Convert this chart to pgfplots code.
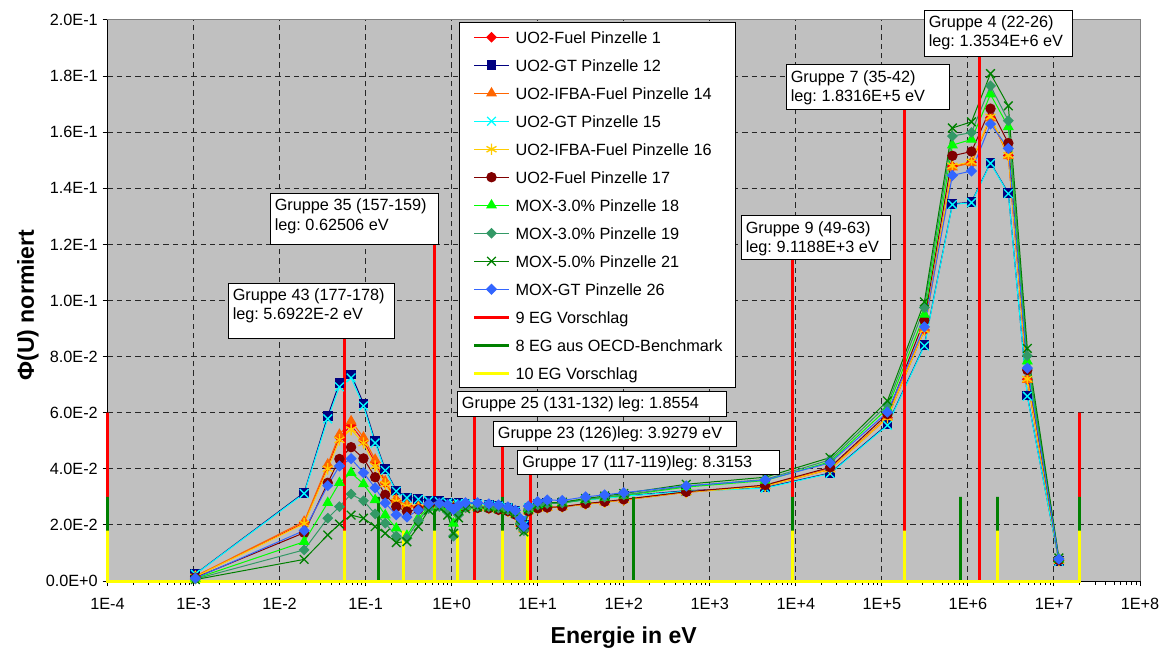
\documentclass[border=0pt]{standalone}
\usepackage{fontspec}
\setmainfont{Liberation Sans}
\usepackage{pgfplots}
\pgfplotsset{compat=1.18}
\usepackage{pgfplotstable}
\frenchspacing

\definecolor{cUOa}{HTML}{FF0000}
\definecolor{cGTa}{HTML}{000080}
\definecolor{cIFa}{HTML}{FF6600}
\definecolor{cGTb}{HTML}{00FFFF}
\definecolor{cIFb}{HTML}{FFCC00}
\definecolor{cUOb}{HTML}{800000}
\definecolor{cMOa}{HTML}{00FF00}
\definecolor{cMOb}{HTML}{339966}
\definecolor{cMOc}{HTML}{008000}
\definecolor{cMGT}{HTML}{3366FF}
\definecolor{egRed}{HTML}{FF0000}
\definecolor{egGreen}{HTML}{008000}
\definecolor{egYellow}{HTML}{FFFF00}
\definecolor{plotbg}{HTML}{C0C0C0}

\newcommand\tfont{\fontsize{12.2}{14.6}\selectfont}
\newcommand\lfont{\fontsize{17.3}{20}\selectfont\bfseries}

% normalised flux per energy point (eV) for the ten pin cells
\pgfplotstableread{
E       s1     s12    s14    s15    s16    s17    s18    s19    s21    s26
1.05e-3 0.0016 0.0025 0.0017 0.0024 0.0015 0.0012 0.0009 0.0007 0.0005 0.0010
0.0193  0.0207 0.0315 0.0212 0.0312 0.0204 0.0172 0.0140 0.0111 0.0077 0.0180
0.0363  0.0408 0.0588 0.0416 0.0578 0.0400 0.0350 0.0279 0.0224 0.0164 0.0340
0.0496  0.0512 0.0706 0.0522 0.0692 0.0503 0.0435 0.0350 0.0265 0.0203 0.0410
0.0678  0.0555 0.0736 0.0570 0.0724 0.0540 0.0477 0.0386 0.0310 0.0235 0.0436
0.0944  0.0500 0.0633 0.0512 0.0624 0.0492 0.0437 0.0346 0.0286 0.0224 0.0386
0.129   0.0422 0.0498 0.0433 0.0492 0.0410 0.0370 0.0289 0.0239 0.0194 0.0332
0.169   0.0350 0.0398 0.0356 0.0394 0.0345 0.0307 0.0235 0.0206 0.0170 0.0278
0.227   0.0287 0.0323 0.0290 0.0320 0.0283 0.0265 0.0188 0.0160 0.0137 0.0236
0.302   0.0268 0.0298 0.0272 0.0296 0.0266 0.0248 0.0162 0.0152 0.0140 0.0228
0.41    0.0262 0.0293 0.0265 0.0291 0.0261 0.0255 0.0225 0.0215 0.0194 0.0253
0.54    0.0268 0.0287 0.0270 0.0286 0.0268 0.0267 0.0262 0.0258 0.0253 0.0275
0.72    0.0270 0.0284 0.0272 0.0283 0.0270 0.0270 0.0268 0.0265 0.0262 0.0277
0.90    0.0267 0.0280 0.0268 0.0279 0.0267 0.0266 0.0255 0.0245 0.0235 0.0272
1.05    0.0264 0.0276 0.0265 0.0275 0.0264 0.0262 0.0205 0.0160 0.0170 0.0255
1.2     0.0265 0.0277 0.0266 0.0276 0.0265 0.0264 0.0245 0.0235 0.0225 0.0270
1.45    0.0263 0.0276 0.0264 0.0275 0.0263 0.0263 0.0265 0.0262 0.0258 0.0279
2.0     0.0261 0.0275 0.0262 0.0274 0.0261 0.0261 0.0268 0.0266 0.0264 0.0279
2.7     0.0259 0.0272 0.0260 0.0271 0.0259 0.0259 0.0266 0.0265 0.0263 0.0275
3.5     0.0254 0.0268 0.0255 0.0267 0.0254 0.0254 0.0262 0.0260 0.0258 0.0271
4.5     0.0249 0.0262 0.0250 0.0261 0.0249 0.0249 0.0256 0.0254 0.0252 0.0264
5.5     0.0237 0.0250 0.0238 0.0249 0.0237 0.0237 0.0245 0.0243 0.0240 0.0252
6.3     0.0204 0.0215 0.0205 0.0214 0.0204 0.0204 0.0212 0.0205 0.0200 0.0222
6.9     0.0184 0.0200 0.0185 0.0199 0.0184 0.0184 0.0188 0.0180 0.0175 0.0195
7.8     0.0249 0.0262 0.0250 0.0261 0.0249 0.0249 0.0258 0.0256 0.0255 0.0267
10      0.0259 0.0275 0.0260 0.0274 0.0259 0.0259 0.0272 0.0271 0.0272 0.0283
12.9    0.0261 0.0278 0.0262 0.0277 0.0261 0.0262 0.0277 0.0276 0.0278 0.0289
19.3    0.0264 0.0280 0.0265 0.0279 0.0264 0.0265 0.0278 0.0278 0.0281 0.0287
36      0.0274 0.0290 0.0275 0.0289 0.0274 0.0276 0.0290 0.0291 0.0294 0.0300
60      0.0281 0.0296 0.0282 0.0295 0.0281 0.0283 0.0298 0.0299 0.0303 0.0307
100     0.0289 0.0303 0.0290 0.0302 0.0289 0.0291 0.0305 0.0307 0.0312 0.0315
533     0.0316 0.0322 0.0318 0.0320 0.0316 0.0318 0.0335 0.0338 0.0345 0.0339
4.4e3   0.0338 0.0333 0.0340 0.0331 0.0338 0.0342 0.0358 0.0362 0.0370 0.0360
2.5e4   0.0398 0.0385 0.0400 0.0383 0.0398 0.0405 0.0425 0.0432 0.0440 0.0421
1.16e5  0.0582 0.0558 0.0585 0.0555 0.0582 0.0595 0.0615 0.0628 0.0642 0.0602
3.12e5  0.0895 0.0841 0.0900 0.0838 0.0895 0.0930 0.0950 0.0975 0.0995 0.0906
6.6e5   0.1478 0.1344 0.1475 0.1342 0.1480 0.1516 0.1554 0.1586 0.1615 0.1446
1.1e6   0.1493 0.1351 0.1490 0.1349 0.1495 0.1531 0.1574 0.1599 0.1637 0.1462
1.83e6  0.1652 0.1491 0.1650 0.1489 0.1655 0.1684 0.1735 0.1765 0.1809 0.1629
2.95e6  0.1517 0.1383 0.1515 0.1381 0.1518 0.1561 0.1619 0.1641 0.1694 0.1542
4.9e6   0.0719 0.0661 0.0718 0.0659 0.0720 0.0752 0.0784 0.0803 0.0829 0.0759
1.14e7  0.0073 0.0071 0.0072 0.0070 0.0073 0.0074 0.0078 0.0080 0.0082 0.0078
}\phidata

\begin{document}
\begin{tikzpicture}
\begin{axis}[
  at={(0pt,0pt)}, anchor=south west,
  scale only axis, width=774.375pt, height=420.75pt,
  xmode=log, xmin=1e-4, xmax=1e8, ymin=0, ymax=0.2,
  clip=false,
  axis background/.style={fill=plotbg},
  axis line style={draw=none},
  xtick={1e-4,1e-3,1e-2,1e-1,1e0,1e1,1e2,1e3,1e4,1e5,1e6,1e7,1e8},
  xticklabels={1E-4,1E-3,1E-2,1E-1,1E+0,1E+1,1E+2,1E+3,1E+4,1E+5,1E+6,1E+7,1E+8},
  minor xtick={},
  ytick={0,0.02,0.04,0.06,0.08,0.1,0.12,0.14,0.16,0.18,0.2},
  yticklabels={0.0E+0,2.0E-2,4.0E-2,6.0E-2,8.0E-2,1.0E-1,1.2E-1,1.4E-1,1.6E-1,1.8E-1,2.0E-1},
  tick align=outside, tick pos=left,
  major tick length=3.75pt,
  tick style={black, line width=0.75pt},
  xmajorgrids, ymajorgrids,
  major grid style={black!85, line width=0.75pt, dash pattern=on 4pt off 3pt},
  /pgf/number format/assume math mode=true,
  ticklabel style={font=\tfont},
  xticklabel style={yshift=-5.5pt},
  xlabel={Energie in eV},
  ylabel={Φ(U) normiert},
  xlabel style={font=\lfont, at={(axis description cs:0.5,-0.1016)}, anchor=center},
  ylabel style={font=\lfont, at={(axis description cs:-0.077,0.492)}, anchor=center},
  legend cell align=left,
  legend style={
    at={(axis description cs:0.34044,0.99643)}, anchor=north west,
    draw=black, line width=0.75pt, fill=white,
    inner xsep=9.75pt, inner ysep=4.9pt,
    row sep=8.7pt,
    font=\tfont,
    nodes={inner sep=0pt, text height=10.5pt, text depth=1.8pt},
    /tikz/every odd column/.append style={column sep=3.75pt},
  },
  legend image code/.code={
    \draw[mark repeat=2,mark phase=2] plot coordinates {(0pt,0pt) (13.125pt,0pt) (26.25pt,0pt)};
  },
]
% plot-area frame: grey top/right, black axes left/bottom
\draw[black!50, line width=0.75pt] (rel axis cs:0,1) -- (rel axis cs:1,1) -- (rel axis cs:1,0);
\draw[black, line width=0.75pt] (rel axis cs:0,1) -- (rel axis cs:0,0) -- (rel axis cs:1,0);

\addplot[color=cUOa, line width=0.75pt, mark=square*, mark size=2.5pt, mark options={rotate=45, fill=cUOa}] table[x=E,y=s1]{\phidata};
\addlegendentry{UO2-Fuel Pinzelle 1}
\addplot[color=cGTa, line width=0.75pt, mark=square*, mark size=3.3pt, mark options={fill=cGTa}] table[x=E,y=s12]{\phidata};
\addlegendentry{UO2-GT Pinzelle 12}
\addplot[color=cIFa, line width=0.75pt, mark=triangle*, mark size=4pt, mark options={fill=cIFa}] table[x=E,y=s14]{\phidata};
\addlegendentry{UO2-IFBA-Fuel Pinzelle 14}
\addplot[color=cGTb, line width=0.75pt, mark=x, mark size=4.6pt, mark options={line width=1pt}] table[x=E,y=s15]{\phidata};
\addlegendentry{UO2-GT Pinzelle 15}
\addplot[color=cIFb, line width=0.75pt, mark=asterisk, mark size=4.3pt, mark options={line width=1pt}] table[x=E,y=s16]{\phidata};
\addlegendentry{UO2-IFBA-Fuel Pinzelle 16}
\addplot[color=cUOb, line width=0.75pt, mark=*, mark size=3.5pt, mark options={fill=cUOb}] table[x=E,y=s17]{\phidata};
\addlegendentry{UO2-Fuel Pinzelle 17}
\addplot[color=cMOa, line width=0.75pt, mark=triangle*, mark size=4pt, mark options={fill=cMOa}] table[x=E,y=s18]{\phidata};
\addlegendentry{MOX-3.0\% Pinzelle 18}
\addplot[color=cMOb, line width=0.75pt, mark=square*, mark size=2.5pt, mark options={rotate=45, fill=cMOb}] table[x=E,y=s19]{\phidata};
\addlegendentry{MOX-3.0\% Pinzelle 19}
\addplot[color=cMOc, line width=0.75pt, mark=x, mark size=4.6pt, mark options={line width=1pt}] table[x=E,y=s21]{\phidata};
\addlegendentry{MOX-5.0\% Pinzelle 21}
\addplot[color=cMGT, line width=0.75pt, mark=square*, mark size=2.6pt, mark options={rotate=45, fill=cMGT}] table[x=E,y=s26]{\phidata};
\addlegendentry{MOX-GT Pinzelle 26}

% group boundaries of the three condensation schemes
\addplot[color=egRed, line width=2.25pt, no marks] coordinates {
  (1e-4,0) (1e-4,0.06) (1e-4,0)
  (5.6922e-2,0) (5.6922e-2,0.0866) (5.6922e-2,0)
  (0.62506,0) (0.62506,0.1198) (0.62506,0)
  (1.8554,0) (1.8554,0.0588) (1.8554,0)
  (3.9279,0) (3.9279,0.0481) (3.9279,0)
  (8.3153,0) (8.3153,0.0380) (8.3153,0)
  (9.1188e3,0) (9.1188e3,0.1147) (9.1188e3,0)
  (1.8316e5,0) (1.8316e5,0.1679) (1.8316e5,0)
  (1.3534e6,0) (1.3534e6,0.1869) (1.3534e6,0)
  (2e7,0) (2e7,0.06) (2e7,0)};
\addlegendentry{9 EG Vorschlag}
\addplot[color=egGreen, line width=2.25pt, no marks] coordinates {
  (1e-4,0) (1e-4,0.03) (1e-4,0)
  (0.14,0) (0.14,0.03) (0.14,0)
  (0.625,0) (0.625,0.03) (0.625,0)
  (3.9279,0) (3.9279,0.03) (3.9279,0)
  (130.07,0) (130.07,0.03) (130.07,0)
  (9.1188e3,0) (9.1188e3,0.03) (9.1188e3,0)
  (8.2085e5,0) (8.2085e5,0.03) (8.2085e5,0)
  (2.2313e6,0) (2.2313e6,0.03) (2.2313e6,0)
  (2e7,0) (2e7,0.03) (2e7,0)};
\addlegendentry{8 EG aus OECD-Benchmark}
\addplot[color=egYellow, line width=2.25pt, no marks] coordinates {
  (1e-4,0) (1e-4,0.018) (1e-4,0)
  (5.6922e-2,0) (5.6922e-2,0.018) (5.6922e-2,0)
  (0.2735,0) (0.2735,0.018) (0.2735,0)
  (0.625,0) (0.625,0.018) (0.625,0)
  (1.16,0) (1.16,0.018) (1.16,0)
  (3.9279,0) (3.9279,0.018) (3.9279,0)
  (7.55,0) (7.55,0.018) (7.55,0)
  (9.1188e3,0) (9.1188e3,0.018) (9.1188e3,0)
  (1.8316e5,0) (1.8316e5,0.018) (1.8316e5,0)
  (2.2313e6,0) (2.2313e6,0.018) (2.2313e6,0)
  (2e7,0) (2e7,0.018) (2e7,0)};
\addlegendentry{10 EG Vorschlag}
\end{axis}

% group labels, placed in picture pixels (origin top left)
\begin{scope}[x=0.75pt, y=-0.75pt, shift={(-80.625pt,435.75pt)},
  lab/.style={anchor=base west, inner sep=0pt, font=\tfont},
  box/.style={draw=black, fill=white, line width=0.75pt}]
  \draw[box] (228,283.3) rectangle (394.5,338.4);
  \node[lab] at (232.5,300.7) {Gruppe 43 (177-178)};
  \node[lab] at (232.5,319.5) {leg: 5.6922E-2 eV};

  \draw[box] (270,193.3) rectangle (438.7,245);
  \node[lab] at (274.5,210.7) {Gruppe 35 (157-159)};
  \node[lab] at (274.5,230.7) {leg: 0.62506 eV};

  \draw[box] (457.3,391.7) rectangle (726.7,416);
  \node[lab] at (461.7,408.3) {Gruppe 25 (131-132) leg: 1.8554};

  \draw[box] (493.3,421.7) rectangle (736,446);
  \node[lab] at (497.6,438.2) {Gruppe 23 (126)leg: 3.9279 eV};

  \draw[box] (517.7,450.7) rectangle (779.3,474.3);
  \node[lab] at (522,467.2) {Gruppe 17 (117-119)leg: 8.3153};

  \draw[box] (741,216) rectangle (890,259.3);
  \node[lab] at (745.5,233.3) {Gruppe 9 (49-63)};
  \node[lab] at (745.5,252.5) {leg: 9.1188E+3 eV};

  \draw[box] (786,65) rectangle (949,110);
  \node[lab] at (790.5,82.3) {Gruppe 7 (35-42)};
  \node[lab] at (790.5,101.7) {leg: 1.8316E+5 eV};

  \draw[box] (924.3,10.7) rectangle (1072.7,56.7);
  \node[lab] at (928.5,27.3) {Gruppe 4 (22-26)};
  \node[lab] at (928.5,46.7) {leg: 1.3534E+6 eV};

  \pgfresetboundingbox
  \path[use as bounding box] (0,0) rectangle (1166,650);
\end{scope}
\end{tikzpicture}
\end{document}
